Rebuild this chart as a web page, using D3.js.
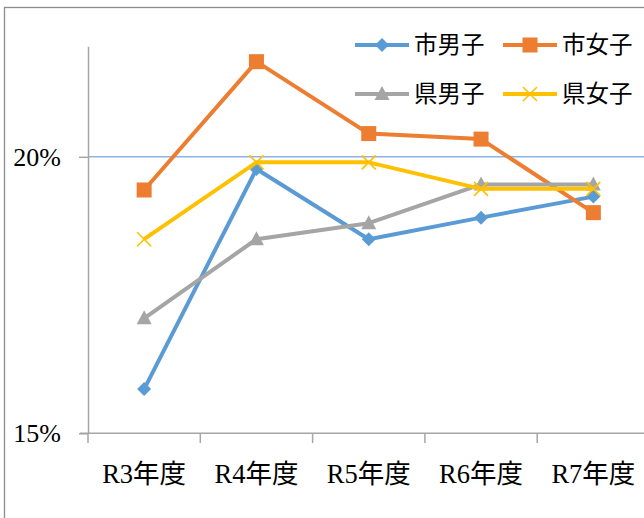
<!DOCTYPE html>
<html><head><meta charset="utf-8">
<script src="https://cdn.jsdelivr.net/npm/d3@7"></script>
<style>html,body{margin:0;padding:0;background:#fff;}svg{display:block;}</style>
</head><body>
<svg id="c" width="644" height="518"></svg>
<script>
const categories = ["R3年度","R4年度","R5年度","R6年度","R7年度"];
const seriesNames = ["市男子","市女子","県男子","県女子"];
const cityBoys  = [15.8, 19.78, 18.51, 18.9, 19.28];
const cityGirls = [19.4, 21.72, 20.42, 20.32, 18.99];
const prefBoys  = [17.08, 18.51, 18.8, 19.5, 19.5];
const prefGirls = [18.51, 19.9, 19.9, 19.42, 19.42];
const yTicks = [15, 20];
const colors = ["#5B9BD5","#ED7D31","#A5A5A5","#FFC000"];
const markers = ["diamond","square","triangle","x"];

const svg = d3.select("#c");
const serif = "'Liberation Serif','Noto Sans CJK JP',serif";

// chart border
svg.append("rect").attr("x",4.5).attr("y",7.5).attr("width",700).attr("height",600)
  .attr("fill","#fff").attr("stroke","#8c8c8c").attr("stroke-width",1.3);

const x = d3.scaleBand().domain(categories).range([88, 88 + 5*112.3]);
const y = d3.scaleLinear().domain([15, 22]).range([433.3, 46.2]);

// gridline at 20%
svg.append("g").selectAll("line").data(yTicks.filter(d => d !== 15)).join("line")
  .attr("x1", 88).attr("x2", 650).attr("y1", d => y(d)).attr("y2", d => y(d))
  .attr("stroke","#8EB4E3").attr("stroke-width",1.5);

// y axis
const yAxis = svg.append("g").attr("transform","translate(88,0)")
  .call(d3.axisLeft(y).tickValues(yTicks).tickSize(9).tickSizeOuter(0).tickFormat(d => d + "%"));
yAxis.select(".domain").attr("stroke","#a6a6a6").attr("stroke-width",1.5);
yAxis.selectAll(".tick line").attr("stroke","#a6a6a6").attr("stroke-width",1.5);
yAxis.selectAll(".tick text").attr("font-family",serif).attr("font-size",26).attr("fill","#000")
  .attr("x",-27).attr("dy",null).attr("y",8.5);

// x axis
const xAxis = svg.append("g").attr("transform","translate(0,433.3)")
  .call(d3.axisBottom(x).tickSize(0).tickSizeOuter(0));
xAxis.select(".domain").attr("stroke","#a6a6a6").attr("stroke-width",1.5).attr("d","M80,0H650");
xAxis.selectAll(".tick text").attr("font-family",serif).attr("font-size",26.5).attr("fill","#000")
  .attr("y",50).attr("dy",null);
// category boundary ticks
const bounds = categories.map(c => x(c)).concat([x(categories[4]) + x.bandwidth()]);
svg.append("g").selectAll("line").data(bounds).join("line")
  .attr("x1", d => d).attr("x2", d => d).attr("y1", 433.3).attr("y2", 443)
  .attr("stroke","#a6a6a6").attr("stroke-width",1.5);

const cx = c => x(c) + x.bandwidth()/2;

function drawMarker(g, type, color, px, py) {
  if (type === "diamond") {
    g.append("path").attr("d", `M${px},${py-7}L${px+7},${py}L${px},${py+7}L${px-7},${py}Z`).attr("fill", color);
  } else if (type === "square") {
    g.append("rect").attr("x", px-7.5).attr("y", py-7.5).attr("width",15).attr("height",15).attr("fill", color);
  } else if (type === "triangle") {
    g.append("path").attr("d", `M${px},${py-8}L${px+7.5},${py+6}L${px-7.5},${py+6}Z`).attr("fill", color);
  } else {
    g.append("path").attr("d", `M${px-7},${py-7}L${px+7},${py+7}M${px-7},${py+7}L${px+7},${py-7}`)
      .attr("stroke", color).attr("stroke-width",1.6).attr("fill","none");
  }
}

const allSeries = [cityBoys, cityGirls, prefBoys, prefGirls];
const line = d3.line().x((d,i) => cx(categories[i])).y(d => y(d));
allSeries.forEach((vals, si) => {
  const g = svg.append("g");
  g.append("path").datum(vals).attr("d", line).attr("fill","none")
    .attr("stroke", colors[si]).attr("stroke-width",4).attr("stroke-linejoin","round");
  vals.forEach((v,i) => drawMarker(g, markers[si], colors[si], cx(categories[i]), y(v)));
});

// legend
const legPos = [[355,45],[503,45],[355,94],[503,94]];
seriesNames.forEach((name, si) => {
  const [lx, ly] = legPos[si];
  const g = svg.append("g");
  g.append("line").attr("x1", lx).attr("x2", lx+54).attr("y1", ly).attr("y2", ly)
    .attr("stroke", colors[si]).attr("stroke-width",4);
  drawMarker(g, markers[si], colors[si], lx+27, ly);
  g.append("text").attr("x", lx+59).attr("y", ly).attr("dominant-baseline","central")
    .attr("font-family", serif).attr("font-size",23.5).attr("fill","#000").text(name);
});
</script>
</body></html>
